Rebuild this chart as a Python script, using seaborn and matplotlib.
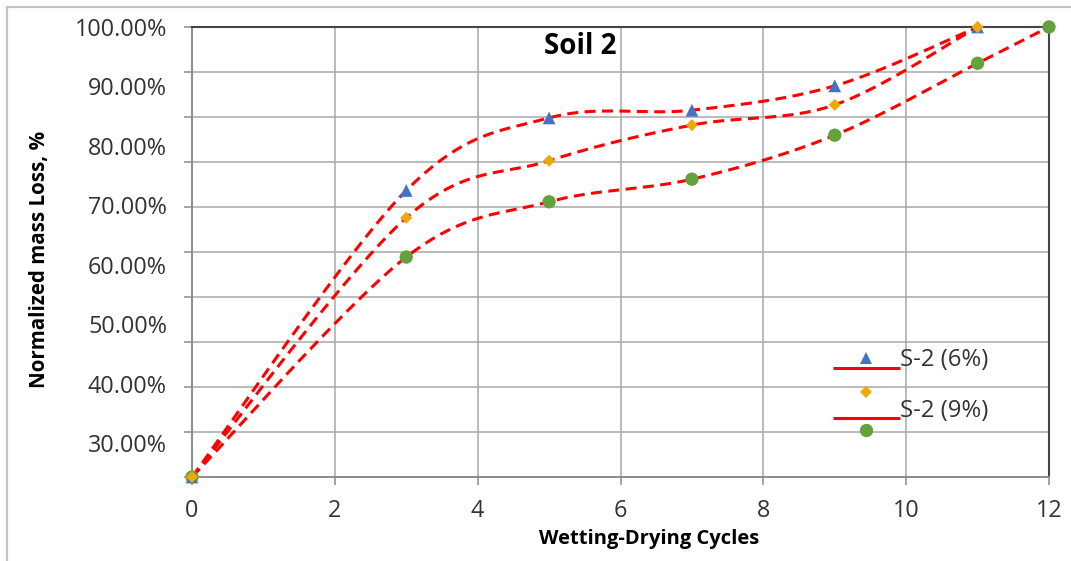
import numpy as np
import matplotlib
matplotlib.use("Agg")
import matplotlib.pyplot as plt
import seaborn as sns
from matplotlib.lines import Line2D
from matplotlib.legend_handler import HandlerBase

# ---- data: normalized mass loss (%) vs wetting-drying cycles ----
cycles_6 = [0, 3, 5, 7, 9, 11]
loss_6 = [24.3, 72.5, 84.7, 86.0, 90.1, 100.0]

cycles_9 = [0, 3, 5, 7, 9, 11]
loss_9 = [24.3, 67.9, 77.5, 83.5, 86.9, 100.0]

cycles_c = [0, 3, 5, 7, 9, 11, 12]
loss_c = [24.3, 61.3, 70.6, 74.4, 81.8, 93.9, 100.0]

x_ticks = [0, 2, 4, 6, 8, 10, 12]
y_label_vals = [30, 40, 50, 60, 70, 80, 90, 100]
y_label_text = ["30.00%", "40.00%", "50.00%", "60.00%", "70.00%", "80.00%", "90.00%", "100.00%"]
legend_labels = ["S-2 (6%)", "S-2 (9%)"]

Y_MIN, Y_MAX = 24.3, 100.0
N_GRID = 10

BLUE = "#4472C4"
GOLD = "#EBAA0A"
GREEN = "#63A13C"
RED = "#FF0000"
TXT = "#333333"


def smooth_curve(xs, ys, n=40):
    """Smoothed polyline through the points (Catmull-Rom as cubic Beziers)."""
    p = np.column_stack([xs, ys]).astype(float)
    ext = np.vstack([p[0], p, p[-1]])
    t = np.linspace(0, 1, n)[:, None]
    parts = []
    for i in range(len(p) - 1):
        p0, p1, p2, p3 = ext[i], ext[i + 1], ext[i + 2], ext[i + 3]
        c1 = p1 + (p2 - p0) / 6.0
        c2 = p2 - (p3 - p1) / 6.0
        seg = (1 - t) ** 3 * p1 + 3 * (1 - t) ** 2 * t * c1 + 3 * (1 - t) * t ** 2 * c2 + t ** 3 * p2
        parts.append(seg if i == 0 else seg[1:])
    return np.vstack(parts)


class LegendStack:
    def __init__(self, parts):
        self.parts = parts


class StackedHandler(HandlerBase):
    def create_artists(self, legend, orig_handle, xdescent, ydescent,
                       width, height, fontsize, trans):
        cy = height / 2.0 - ydescent
        out = []
        for kind, props, dy in orig_handle.parts:
            if kind == "line":
                a = Line2D([-xdescent, -xdescent + width], [cy + dy, cy + dy], **props)
            else:
                a = Line2D([-xdescent + width / 2.0], [cy + dy], linestyle="none", **props)
            a.set_transform(trans)
            out.append(a)
        return out


sns.set_style("white")
plt.rcParams["font.family"] = ["Open Sans", "DejaVu Sans"]

fig = plt.figure(figsize=(10.71, 5.61), dpi=100)
ax = fig.add_axes([192 / 1071, 1 - 477 / 561, (1049 - 192) / 1071, (477 - 27) / 561])

# trend curves
for xs, ys in [(cycles_6, loss_6), (cycles_9, loss_9), (cycles_c, loss_c)]:
    c = smooth_curve(xs, ys)
    sns.lineplot(x=c[:, 0], y=c[:, 1], sort=False, estimator=None, ax=ax,
                 color=RED, linewidth=2.2, linestyle=(0, (3.6, 2.1)), zorder=3)

# markers
sns.scatterplot(x=cycles_c, y=loss_c, ax=ax, marker="o", s=92, color=GREEN,
                edgecolor="none", zorder=4, clip_on=False)
sns.scatterplot(x=cycles_6, y=loss_6, ax=ax, marker="^", s=84, color=BLUE,
                edgecolor="none", zorder=5, clip_on=False)
sns.scatterplot(x=cycles_9, y=loss_9, ax=ax, marker="D", s=38, color=GOLD,
                edgecolor="none", zorder=6, clip_on=False)

# axes limits, grid and ticks
ax.set_xlim(0, 12)
ax.set_ylim(Y_MIN, Y_MAX)
ax.set_xticks(x_ticks)
ax.set_xticklabels([str(v) for v in x_ticks])
grid_vals = np.linspace(Y_MIN, Y_MAX, N_GRID + 1)
ax.yaxis.remove_overlapping_locs = False
ax.set_yticks(grid_vals)
ax.set_yticklabels([""] * len(grid_vals))
ax.set_yticks(y_label_vals, minor=True)
ax.set_yticklabels(y_label_text, minor=True)

ax.grid(True, which="major", color="#A8A8A8", linewidth=1.1)
ax.tick_params(axis="y", which="major", direction="out", length=6, width=1.1,
               color="#8C8C8C", left=True)
ax.tick_params(axis="y", which="minor", length=0, pad=18, labelsize=16.8,
               labelcolor=TXT)
ax.tick_params(axis="x", which="major", direction="out", length=6, width=1.1,
               color="#8C8C8C", bottom=True, pad=10, labelsize=16.8, labelcolor=TXT)

for side in ["left", "bottom"]:
    ax.spines[side].set_color("#8C8C8C")
    ax.spines[side].set_linewidth(1.4)
for side in ["top", "right"]:
    ax.spines[side].set_color("#444444")
    ax.spines[side].set_linewidth(1.5)

ax.set_xlabel("Wetting-Drying Cycles", fontsize=14.5, fontweight="bold",
              color="black", va="center")
ax.xaxis.set_label_coords((649 - 192) / 857, (477 - 539) / 450)
ax.set_ylabel("Normalized mass Loss, %", fontsize=14.8, fontweight="bold",
              color="black", va="center")
ax.yaxis.set_label_coords((40 - 192) / 857, (477 - 259) / 450)

ax.text((580 - 192) / 857, (477 - 46) / 450, "Soil 2", transform=ax.transAxes,
        ha="center", va="center", fontsize=20, fontweight="bold", color="black")

# legend
line_props = dict(color=RED, linewidth=2.2, solid_capstyle="butt")
h1 = LegendStack([
    ("line", line_props, -7.2),
    ("marker", dict(marker="^", markersize=9.2, color=BLUE, markeredgewidth=0), 0.0),
])
h2 = LegendStack([
    ("marker", dict(marker="D", markersize=6.1, color=GOLD, markeredgewidth=0), 12.5),
    ("line", line_props, -6.5),
    ("marker", dict(marker="o", markersize=9.6, color=GREEN, markeredgewidth=0), -15.1),
])
leg = ax.legend([h1, h2], legend_labels, handler_map={LegendStack: StackedHandler()},
                loc="upper left", bbox_to_anchor=(833 / 1071, 1 - 348 / 561),
                bbox_transform=fig.transFigure, frameon=False, borderpad=0,
                borderaxespad=0, handlelength=2.8, handletextpad=0.0,
                labelspacing=1.15, fontsize=17.2)
for t in leg.get_texts():
    t.set_color(TXT)

# outer chart frame (top and left edges)
frame_kw = dict(transform=fig.transFigure, color="#C4C4C4", linewidth=1.6)
fig.add_artist(Line2D([7 / 1071, 1.0], [1 - 7 / 561, 1 - 7 / 561], **frame_kw))
fig.add_artist(Line2D([7 / 1071, 7 / 1071], [0.0, 1 - 7 / 561], **frame_kw))

fig.savefig("out.png", dpi=100)
